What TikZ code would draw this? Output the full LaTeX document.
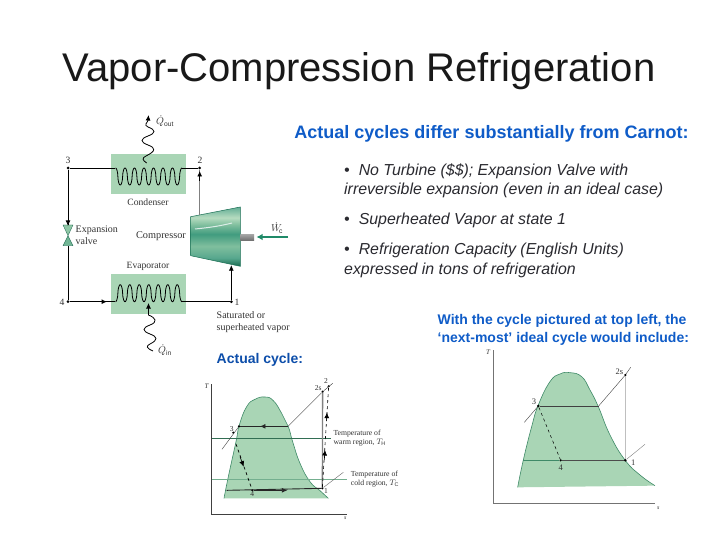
\documentclass[tikz,border=0pt]{standalone}
\usepackage{fontspec}
\setmainfont{Liberation Sans}
\newfontfamily\serifx{Liberation Serif}
\usetikzlibrary{arrows.meta}
\definecolor{panel}{HTML}{A9D5B5}
\definecolor{dome}{HTML}{A9D5B5}
\definecolor{domeline}{HTML}{3F8A68}
\definecolor{teal}{HTML}{1F8A68}
\definecolor{blueT}{HTML}{0F5CC8}
\definecolor{bodyT}{HTML}{2A2A30}
\pgfdeclareverticalshading{compshade}{100bp}{
 color(0bp)=(teal!75!black);
 color(25bp)=(teal!75!black);
 color(32bp)=(teal!75!white);
 color(42bp)=(panel!70!teal);
 color(52bp)=(teal!85!white);
 color(60bp)=(panel!70!teal);
 color(66bp)=(panel!85!white);
 color(75bp)=(teal!70!white);
 color(100bp)=(teal!70!white)}
\tikzset{
 lab/.style={font=\serifx\fontsize{9.6}{11}\selectfont,text=black!80,inner sep=0pt,align=left},
 tlab/.style={font=\serifx\fontsize{7.5}{8.5}\selectfont,text=black!80,inner sep=0pt,align=left},
 panelbox/.style={fill=panel,draw=none},
 pipe/.style={black,line width=0.7pt},
 head/.style={-{Latex[length=5.5pt,width=5pt]}},
 heat/.style={black,line width=0.8pt},
 dotc/.style={circle,fill=black,inner sep=0pt,minimum size=3pt},
 bluehead/.style={font=\bfseries\fontsize{18}{21}\selectfont,text=blueT,inner sep=0pt},
 blueh2/.style={font=\bfseries\fontsize{14}{18}\selectfont,text=blueT,inner sep=0pt,align=left},
 bodyx/.style={font=\itshape\fontsize{15.9}{19.3}\selectfont,text=bodyT,inner sep=0pt,align=left,anchor=north west},
 phase/.style={black!85,line width=0.9pt},
 thin1/.style={black!75,line width=0.4pt},
}
\begin{document}
\begin{tikzpicture}[x=1pt,y=-1pt]
\useasboundingbox (0,0) rectangle (720,540);
\fill[white] (0,0) rectangle (720,540);
\node[inner sep=0pt,font=\fontsize{40}{46}\selectfont,text=black!90] (title) at (359,71) {Vapor-Compression Refrigeration};

% ---- schematic
\node[panelbox,minimum width=75.3pt,minimum height=40pt,inner sep=0pt] (cond) at (148.3,174.3) {};
\node[panelbox,minimum width=75.3pt,minimum height=40.6pt,inner sep=0pt] (evap) at (148.3,294) {};
\node[dotc] (p3) at (68,168) {};
\node[dotc] (p2) at (199.7,168) {};
\node[dotc] (p4) at (68,301.7) {};
\node[dotc] (p1) at (231.3,301.7) {};
\coordinate (cl) at (115,168); \coordinate (cr) at (182,168);
\coordinate (el) at (115,301.7); \coordinate (er) at (182,301.7);
% coils
\draw[pipe,line width=0.8pt] plot[domain=0:2520,samples=281,smooth]
  ({115.5+\x/360*9.5},{176.5-8.5*(cos(\x)>=0?1:-1)*pow(abs(cos(\x)),0.55)});
\draw[pipe,line width=0.8pt] plot[domain=0:2520,samples=281,smooth]
  ({115.5+\x/360*9.5},{293.2+8.5*(cos(\x)>=0?1:-1)*pow(abs(cos(\x)),0.55)});
\draw[pipe] (p3) -- (cl);
\draw[pipe] (cr) -- (p2);
\draw[pipe] (er) -- (p1);
\draw[pipe,line width=1pt] (p4) -- (el);
\coordinate (marr) at (107,301.7);
\draw[head,line width=1pt] (p4) -- (marr);
% valve
\coordinate (vt) at (68,225); \coordinate (vm) at (68,235.7); \coordinate (vb) at (68,245.7);
\fill[panel!80!teal,draw=teal!70!black,line width=0.3pt] (63,225) -- (73,225) -- (68,235.7) -- cycle;
\fill[panel!60!teal,draw=teal!70!black,line width=0.3pt] (63,245.7) -- (73,245.7) -- (68,235.7) -- cycle;
\draw[pipe] (p3) -- (vt);
\coordinate (varr) at (68,226);
\draw[head,line width=0.9pt] (p3) -- (varr);
\draw[pipe] (p4) -- (vb);
% compressor
\shade[shading=compshade]
  (190.7,216.7) -- (240.3,207) -- (240.3,266.3) -- (190.7,255.7) -- cycle;
\draw[teal!80!black,line width=0.5pt]
  (190.7,216.7) -- (240.3,207) -- (240.3,266.3) -- (190.7,255.7) -- cycle;
\draw[white!85!teal,line width=1pt] (195,229) .. controls (210,227.5) and (220,226) .. (232,223);
\node[inner sep=0pt,minimum size=0pt] (compT) at (199.7,215) {};
\node[inner sep=0pt,minimum size=0pt] (compB) at (231.3,265) {};
\shade[top color=black!35,bottom color=black!55] (240.3,234.3) rectangle (254,240);
\coordinate (wstart) at (288,237); \coordinate (wend) at (256.5,237);
\draw[teal,line width=1.7pt,-{Latex[length=6pt,width=6.5pt]}] (wstart) -- (wend);
\draw[black!50,line width=1.1pt] (compT) -- (p2);
\coordinate (marr2) at (199.7,171);
\draw[head,black,line width=0.9pt] (199.7,181) -- (marr2);
\draw[pipe,head] (p1) -- (compB);
% heat
\coordinate (qo2) at (148.5,115);
\coordinate (qi2) at (148.5,303);
\draw[heat,head] (146.7,163) .. controls (142,160) and (142,158) .. (146,156)
  .. controls (156,151) and (156,148) .. (148,145) .. controls (140,142) and (140,139) .. (148,136)
  .. controls (156,133) and (156,130) .. (148,127) .. controls (143,125) and (148,122) .. (qo2);
\draw[heat,head] (153,351) .. controls (146,348) and (146,346) .. (150,344)
  .. controls (158,340) and (158,337) .. (150,334) .. controls (142,331) and (142,328) .. (150,325)
  .. controls (158,322) and (156,318) .. (148.5,315) -- (qi2);

\node[lab] (lq) at (165,121) {$\dot{Q}_{\mathrm{out}}$};
\node[lab] (l3) at (68,160) {3};
\node[lab] (l2) at (200,160) {2};
\node[lab] (l4) at (62,302) {4};
\node[lab] (l1) at (237,302) {1};
\node[lab] (lc) at (148,202.5) {Condenser};
\node[lab,anchor=west,font=\serifx\fontsize{10}{12}\selectfont] (lv) at (75.5,235.5) {Expansion\\valve};
\node[lab,font=\serifx\fontsize{10.3}{12}\selectfont] (lcomp) at (161,235.7) {Compressor};
\node[lab] (le) at (148,266) {Evaporator};
\node[lab,anchor=west,font=\serifx\fontsize{10}{12}\selectfont] (ls) at (216.5,322) {Saturated or\\superheated vapor};
\node[lab] (lqi) at (165,350) {$\dot{Q}_{\mathrm{in}}$};
\node[lab] (lw) at (277,228) {$\dot{W}_{\!\mathrm{c}}$};
\node[inner sep=0pt,font=\bfseries\fontsize{14}{16}\selectfont,text=blueT!85!black,anchor=west] (ac) at (216.5,360) {Actual cycle:};

% ---- right text
\node[bluehead] (h1) at (491.5,133.5) {Actual cycles differ substantially from Carnot:};
\node[bodyx] (b1) at (344,163.5) {•\hspace{9pt}No Turbine (\$\$); Expansion Valve with\\irreversible expansion (even in an ideal case)};
\node[bodyx] (b2) at (344,212.5) {•\hspace{9pt}Superheated Vapor at state 1};
\node[bodyx] (b3) at (344,243) {•\hspace{9pt}Refrigeration Capacity (English Units)\\expressed in tons of refrigeration};
\node[blueh2,anchor=north west] (b4) at (437.5,314) {With the cycle pictured at top left, the\\‘next-most’ ideal cycle would include:};

% ---- T-s actual
\begin{scope}[shift={(200,370)},x=0.3333pt,y=-0.3333pt]
 \fill[dome] plot[smooth,tension=0.8] coordinates {(72,385)(85,320)(108,215)(118,165)(140,110)(165,88)(195,81)(220,92)(245,130)(265,170)(278,215)(300,280)(330,335)(360,362)(385,385)} -- cycle;
 \draw[domeline,line width=0.6pt] plot[smooth,tension=0.8] coordinates {(72,385)(85,320)(108,215)(118,165)(140,110)(165,88)(195,81)(220,92)(245,130)(265,170)(278,215)(300,280)(330,335)(360,362)(385,385)};
 \draw[black!75,line width=0.5pt] (35,42) -- (35,433) -- (440,433);
 \node[tlab,font=\serifx\itshape\fontsize{7}{8}\selectfont] (aT) at (20,48) {T};
 \node[tlab,font=\serifx\itshape\fontsize{6}{7}\selectfont] (as) at (436,445) {s};
 \draw[domeline!80!black,line width=0.6pt] (35,206) -- (392,206);
 \draw[domeline!50!panel,line width=0.6pt] (35,328) -- (440,328);
 \node[dotc,minimum size=2.4pt] (a3) at (117,169) {};
 \node[dotc,minimum size=2.4pt] (a3p) at (100,188) {};
 \node[dotc,minimum size=2.4pt] (a4) at (157,361) {};
 \node[dotc,minimum size=2.4pt] (a1) at (367,355) {};
 \node[dotc,minimum size=2.4pt] (a2s) at (368,65) {};
 \node[dotc,minimum size=2.4pt] (a2) at (386,49) {};
 \coordinate (aG) at (264,169);
 \coordinate (aL) at (80,361);
 \draw[phase] (a3) -- (aG);
 \draw[phase,head] (aG) -- (180,169);
 \draw[thin1] (aG) -- (a2s);
 \draw[thin1] (a2s) -- (398,40);
 \draw[thin1] (a3) -- (66,238);
 \draw[phase] (aL) -- (a1);
 \draw[phase,head] (a4) -- (262,361);
 \draw[black,line width=0.7pt,dashed] (108,222) -- (a4);
 \draw[head,black,line width=0.6pt] (120,260) -- (131,290);
 \draw[black!50,line width=1.3pt] (a1) -- (a2s);
 \draw[black,line width=0.6pt,dashed] (a1) -- (a2);
 \draw[head,black,line width=0.6pt] (373,270) -- (375,240);
 \draw[head,black,line width=0.6pt] (380,150) -- (381,128);
 \draw[thin1,black!60] (a1) -- (430,307);
 \node[tlab] (a3l) at (95,178) {3};
 \node[tlab] (a4l) at (157,372) {4};
 \node[tlab] (a1l) at (378,362) {1};
 \node[tlab] (a2sl) at (355,54) {2s};
 \node[tlab] (a2l) at (378,33) {2};
 \node[tlab,anchor=west,font=\serifx\fontsize{7.7}{9}\selectfont] (aw) at (400,204) {Temperature of\\warm region, $T_{\mathrm{H}}$};
 \node[tlab,anchor=west,font=\serifx\fontsize{7.7}{9}\selectfont] (ac2) at (452,328) {Temperature of\\cold region, $T_{\mathrm{C}}$};
\end{scope}

% ---- T-s ideal
\begin{scope}[shift={(470,340)},x=0.3333pt,y=-0.3333pt]
 \fill[dome] plot[smooth,tension=0.8] coordinates {(143,442)(160,360)(185,260)(205,195)(240,125)(270,102)(300,98)(335,110)(360,150)(385,200)(420,285)(465,360)(510,405)(555,437)} -- cycle;
 \draw[domeline,line width=0.6pt] plot[smooth,tension=0.8] coordinates {(143,442)(160,360)(185,260)(205,195)(240,125)(270,102)(300,98)(335,110)(360,150)(385,200)(420,285)(465,360)(510,405)(555,437)};
 \draw[black!55,line width=0.5pt] (70,30) -- (70,490) -- (555,490);
 \node[tlab,font=\serifx\itshape\fontsize{7}{8}\selectfont] (bT) at (54,36) {T};
 \node[tlab,font=\serifx\itshape\fontsize{6}{7}\selectfont] (bs) at (565,505) {s};
 \node[dotc,minimum size=2.8pt] (c3) at (205,198) {};
 \node[dotc,minimum size=2.4pt] (c4) at (272,361) {};
 \node[dotc,minimum size=2.8pt] (c1) at (466,361) {};
 \node[dotc,minimum size=2.4pt] (c2) at (466,105) {};
 \coordinate (cG) at (386,198);
 \coordinate (cL) at (160,361);
 \draw[phase,black!75] (c3) -- (cG);
 \draw[phase,black!70] (c4) -- (c1);
 \draw[domeline,line width=0.7pt] (cL) -- (c4);
 \draw[thin1] (cG) -- (c2);
 \draw[thin1] (c2) -- (482,82);
 \draw[thin1,black!25,line width=0.5pt] (c1) -- (c2);
 \draw[thin1] (c3) -- (163,247);
 \draw[thin1,black!50] (c1) -- (525,313);
 \draw[black,line width=0.5pt,dashed] (c3) -- (c4);
 \node[tlab,font=\serifx\fontsize{8.5}{9}\selectfont] (c3l) at (192,186) {3};
 \node[tlab,font=\serifx\fontsize{8.5}{9}\selectfont] (c4l) at (272,382) {4};
 \node[tlab,font=\serifx\fontsize{8.5}{9}\selectfont] (c1l) at (490,367) {1};
 \node[tlab,font=\serifx\fontsize{8.5}{9}\selectfont] (c2l) at (448,94) {2s};
\end{scope}
\end{tikzpicture}
\end{document}
